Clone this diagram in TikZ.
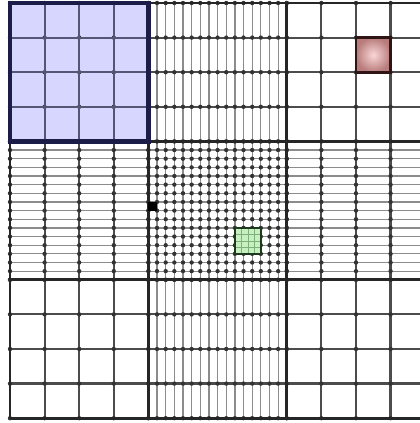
\documentclass[tikz,border=0pt]{standalone}
\usepackage{tikz}

\definecolor{bluefill}{HTML}{D6D6FF}
\definecolor{navy}{HTML}{1C1C48}
\definecolor{pinkin}{HTML}{FAD6D6}
\definecolor{pinkout}{HTML}{B87C7C}
\definecolor{pinkedge}{HTML}{2E1414}
\definecolor{greenfill}{HTML}{C6F0C0}
\definecolor{greenline}{HTML}{7FB07A}
\definecolor{greenedge}{HTML}{1E3A1E}

\begin{document}
\begin{tikzpicture}[
  x=1cm, y=1cm,
  meshline/.style={draw=black!70, line width=1.8pt},
  fineline/.style={draw=black!45, line width=1pt},
  blockline/.style={draw=black!85, line width=2.4pt},
  vtx/.style={fill=black!80},
  bluecell/.style={fill=bluefill},
  pinkcell/.style={draw=pinkedge, line width=2.4pt, inner color=pinkin, outer color=pinkout},
  greencell/.style={draw=greenedge, line width=1.8pt, fill=greenfill},
  markcell/.style={fill=black}
]
\useasboundingbox (-0.289,-0.139) rectangle (11.85,12.087);
\clip (-0.289,-0.139) rectangle (11.85,12.087);

% highlighted coarse block
\fill[bluecell] (0,8) rectangle (4,12);

% mesh of the nine blocks: origin / cells in x / cells in y
\foreach \bx/\by/\nx/\ny in {0/0/4/4, 4/0/16/4, 8/0/4/4,
                             0/4/4/16, 4/4/16/16, 8/4/4/16,
                             0/8/4/4, 4/8/16/4, 8/8/4/4} {
  \pgfmathsetmacro{\hx}{4/\nx}
  \pgfmathsetmacro{\hy}{4/\ny}
  \ifnum\nx=4 \tikzset{vl/.style={meshline}}\else\tikzset{vl/.style={fineline}}\fi
  \ifnum\ny=4 \tikzset{hl/.style={meshline}}\else\tikzset{hl/.style={fineline}}\fi
  \foreach \i in {1,...,\nx}
    \draw[vl] ({\bx+\i*\hx},\by) -- ++(0,4);
  \foreach \j in {1,...,\ny}
    \draw[hl] (\bx,{\by+\j*\hy}) -- ++(4,0);
  \foreach \i in {0,...,\nx}
    \foreach \j in {0,...,\ny}
      \fill[vtx] ({\bx+\i*\hx},{\by+\j*\hy}) circle (1.8pt);
}

% block boundaries
\foreach \k in {0,4,8,12} {
  \draw[blockline] (\k,0) -- (\k,12);
  \draw[blockline] (0,\k) -- (12,\k);
}

% blue block outline and its lines
\foreach \k in {1,2,3} {
  \draw[draw=navy!75, line width=1.6pt] (\k,8) -- (\k,12);
  \draw[draw=navy!75, line width=1.6pt] (0,8+\k) -- (4,8+\k);
}
\draw[draw=navy, line width=3.8pt] (0,8) rectangle (4,12);

% marked cells
\shade[pinkcell] (10,10) rectangle (11,11);
\fill[markcell] (4,6) rectangle (4.25,6.25);
\filldraw[greencell] (6.5,4.75) rectangle (7.25,5.5);
\foreach \k in {0.1875,0.375,0.5625} {
  \draw[draw=greenline, line width=0.6pt] (6.5+\k,4.75) -- ++(0,0.75);
  \draw[draw=greenline, line width=0.6pt] (6.5,4.75+\k) -- ++(0.75,0);
}
\draw[draw=greenedge, line width=1.8pt] (6.5,4.75) rectangle (7.25,5.5);
\end{tikzpicture}
\end{document}
